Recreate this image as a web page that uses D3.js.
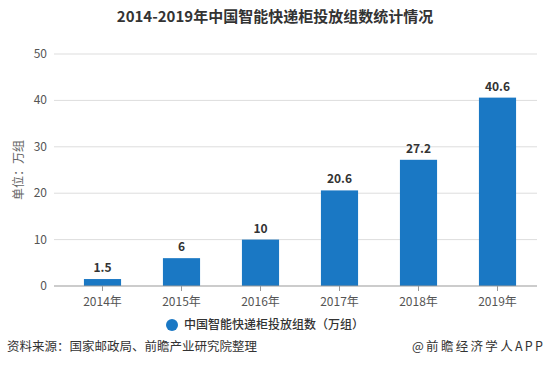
<!DOCTYPE html>
<html><head><meta charset="utf-8">
<script src="https://cdn.jsdelivr.net/npm/d3@7"></script>
<style>body{margin:0;background:#fff;font-family:"Noto Sans CJK SC","Noto Sans",sans-serif;}</style>
</head><body>
<svg id="c" width="549" height="386"></svg>
<script>
const categories = ["2014年","2015年","2016年","2017年","2018年","2019年"];
const values = [1.5, 6, 10, 20.6, 27.2, 40.6];
const valueLabels = ["1.5","6","10","20.6","27.2","40.6"];
const yTicks = [0,10,20,30,40,50];

const svg = d3.select("#c");
const F = '"Noto Sans CJK SC","Noto Sans",sans-serif';
const x = d3.scaleBand().domain(categories).range([63,537]).paddingInner(0.53).paddingOuter(0.265);
const y = d3.scaleLinear().domain([0,50]).range([286,54]);

svg.append("text").attr("x",275).attr("y",22).attr("text-anchor","middle")
  .attr("font-family",F).attr("font-weight","bold").attr("font-size",15).attr("fill","#333")
  .text("2014-2019年中国智能快递柜投放组数统计情况");

// grid
svg.append("g").selectAll("line").data(yTicks.filter(d=>d>0)).join("line")
  .attr("x1",54).attr("x2",537).attr("y1",d=>y(d)).attr("y2",d=>y(d))
  .attr("stroke","#ddd").attr("stroke-width",1);

// y labels
svg.append("g").selectAll("text").data(yTicks).join("text")
  .attr("x",47).attr("y",d=>y(d)+4).attr("text-anchor","end")
  .attr("font-family",F).attr("font-size",12).attr("fill","#555").text(d=>d);

svg.append("text").attr("transform","translate(23,170) rotate(-90)").attr("text-anchor","middle")
  .attr("font-family",F).attr("font-size",12).attr("fill","#666").text("单位：万组");

// bars
svg.append("g").selectAll("rect").data(values).join("rect")
  .attr("x",(d,i)=>x(categories[i])).attr("width",x.bandwidth())
  .attr("y",d=>y(d)).attr("height",d=>y(0)-y(d)).attr("fill","#1a78c4");

svg.append("g").selectAll("text").data(values).join("text")
  .attr("x",(d,i)=>x(categories[i])+x.bandwidth()/2).attr("y",d=>y(d)-7)
  .attr("text-anchor","middle").attr("font-family",F).attr("font-weight","bold")
  .attr("font-size",12).attr("fill","#333").text((d,i)=>valueLabels[i]);

// x axis
const xa = svg.append("g").attr("transform","translate(0,286)");
xa.append("line").attr("x1",54).attr("x2",537).attr("stroke","#999");
xa.selectAll("line.t").data(categories).join("line").attr("class","t")
  .attr("x1",d=>x(d)+x.bandwidth()/2).attr("x2",d=>x(d)+x.bandwidth()/2).attr("y1",0).attr("y2",5).attr("stroke","#999");
xa.selectAll("text").data(categories).join("text")
  .attr("x",d=>x(d)+x.bandwidth()/2).attr("y",20).attr("text-anchor","middle")
  .attr("font-family",F).attr("font-size",12).attr("fill","#555").text(d=>d);

// legend
svg.append("circle").attr("cx",172).attr("cy",325).attr("r",6).attr("fill","#1a78c4");
svg.append("text").attr("x",184).attr("y",329).attr("font-family",F).attr("font-size",12).attr("font-weight",500).attr("fill","#333")
  .text("中国智能快递柜投放组数（万组）");

// footer
svg.append("text").attr("x",7).attr("y",351).attr("font-family",F).attr("font-size",12.5).attr("fill","#333")
  .text("资料来源：国家邮政局、前瞻产业研究院整理");
svg.append("text").attr("x",412).attr("y",351).attr("textLength",131).attr("lengthAdjust","spacing").attr("font-family",F).attr("font-size",12.5).attr("fill","#333")
  .text("@前瞻经济学人APP");
</script>
</body></html>
